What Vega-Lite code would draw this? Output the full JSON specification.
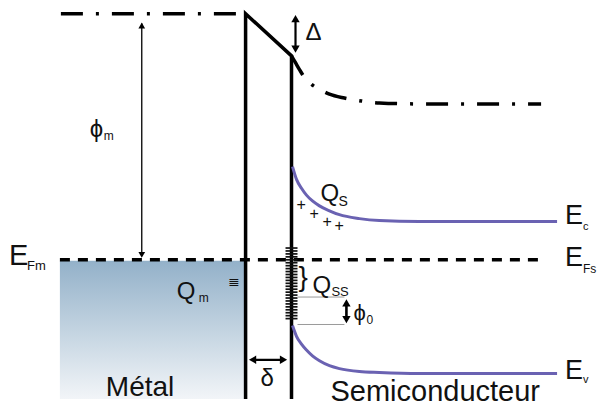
{
  "$schema": "https://vega.github.io/schema/vega-lite/v6.json",
  "width": 597,
  "height": 407,
  "autosize": {"type": "fit", "contains": "padding"},
  "padding": 0,
  "background": "white",
  "config": {"view": {"stroke": null}},
  "encoding": {
    "x": {"field": "x", "type": "quantitative", "scale": {"domain": [0, 597], "nice": false, "zero": false}, "axis": null},
    "y": {"field": "y", "type": "quantitative", "scale": {"domain": [0, 407], "nice": false, "zero": false, "reverse": true}, "axis": null}
  },
  "layer": [
    {
      "data": {"values": [{"x": 60, "y": 266, "x2": 245, "y2": 407}]},
      "mark": {"type": "rect", "fill": {"gradient": "linear", "x1": 0, "y1": 0, "x2": 0, "y2": 1, "stops": [{"offset": 0, "color": "#93b1c9"}, {"offset": 1, "color": "#f2f5f8"}]}},
      "encoding": {"x2": {"field": "x2"}, "y2": {"field": "y2"}}
    },
    {
      "data": {"values": [
        {"s": "top", "o": 1, "x": 61, "y": 14}, {"s": "top", "o": 2, "x": 246, "y": 14},
        {"s": "cb", "o": 1, "x": 292, "y": 57}, {"s": "cb", "o": 2, "x": 296, "y": 64}, {"s": "cb", "o": 3, "x": 300, "y": 71},
        {"s": "cb", "o": 4, "x": 305, "y": 79}, {"s": "cb", "o": 5, "x": 312, "y": 86}, {"s": "cb", "o": 6, "x": 320, "y": 91},
        {"s": "cb", "o": 7, "x": 330, "y": 96}, {"s": "cb", "o": 8, "x": 345, "y": 100}, {"s": "cb", "o": 9, "x": 362, "y": 103},
        {"s": "cb", "o": 10, "x": 380, "y": 105}, {"s": "cb", "o": 11, "x": 420, "y": 106}, {"s": "cb", "o": 12, "x": 542, "y": 106}
      ]},
      "mark": {"type": "line", "color": "black", "strokeWidth": 3.5, "strokeDash": [22, 13, 3, 13], "interpolate": "monotone"},
      "encoding": {"detail": {"field": "s"}, "order": {"field": "o"}}
    },
    {
      "data": {"values": [{"x": 60, "y": 265}, {"x": 545, "y": 265}]},
      "mark": {"type": "line", "color": "black", "strokeWidth": 3.5, "strokeDash": [10, 8]},
      "encoding": {}
    },
    {
      "data": {"values": [
        {"o": 1, "x": 246, "y": 407}, {"o": 2, "x": 246, "y": 14}, {"o": 3, "x": 292, "y": 57}, {"o": 4, "x": 292, "y": 407}
      ]},
      "mark": {"type": "line", "color": "black", "strokeWidth": 3.5, "strokeJoin": "miter"},
      "encoding": {"order": {"field": "o"}}
    },
    {
      "data": {"values": [
        {"x": 286, "y": 253}, {"x": 286, "y": 256}, {"x": 286, "y": 259}, {"x": 286, "y": 262}, {"x": 286, "y": 265},
        {"x": 286, "y": 268}, {"x": 286, "y": 271}, {"x": 286, "y": 274}, {"x": 286, "y": 277}, {"x": 286, "y": 280},
        {"x": 286, "y": 283}, {"x": 286, "y": 286}, {"x": 286, "y": 289}, {"x": 286, "y": 292}, {"x": 286, "y": 295},
        {"x": 286, "y": 298}, {"x": 286, "y": 301}, {"x": 286, "y": 304}, {"x": 286, "y": 307}, {"x": 286, "y": 310},
        {"x": 286, "y": 313}, {"x": 286, "y": 316}, {"x": 286, "y": 319}, {"x": 286, "y": 322}, {"x": 286, "y": 325}
      ]},
      "mark": {"type": "rule", "color": "#111", "strokeWidth": 1.7},
      "encoding": {"x2": {"datum": 298}}
    },
    {
      "data": {"values": [
        {"s": "c", "o": 1, "x": 293, "y": 170}, {"s": "c", "o": 2, "x": 297, "y": 183}, {"s": "c", "o": 3, "x": 302, "y": 192},
        {"s": "c", "o": 4, "x": 307, "y": 199}, {"s": "c", "o": 5, "x": 313, "y": 205}, {"s": "c", "o": 6, "x": 320, "y": 210},
        {"s": "c", "o": 7, "x": 330, "y": 215}, {"s": "c", "o": 8, "x": 340, "y": 219}, {"s": "c", "o": 9, "x": 360, "y": 223},
        {"s": "c", "o": 10, "x": 380, "y": 225}, {"s": "c", "o": 11, "x": 420, "y": 226}, {"s": "c", "o": 12, "x": 558, "y": 226},
        {"s": "v", "o": 1, "x": 293, "y": 332}, {"s": "v", "o": 2, "x": 297, "y": 343}, {"s": "v", "o": 3, "x": 302, "y": 351},
        {"s": "v", "o": 4, "x": 307, "y": 357}, {"s": "v", "o": 5, "x": 313, "y": 363}, {"s": "v", "o": 6, "x": 320, "y": 368},
        {"s": "v", "o": 7, "x": 330, "y": 373}, {"s": "v", "o": 8, "x": 340, "y": 376}, {"s": "v", "o": 9, "x": 360, "y": 379},
        {"s": "v", "o": 10, "x": 380, "y": 380}, {"s": "v", "o": 11, "x": 420, "y": 381}, {"s": "v", "o": 12, "x": 558, "y": 381}
      ]},
      "mark": {"type": "line", "color": "#6a62b2", "strokeWidth": 3, "interpolate": "monotone"},
      "encoding": {"detail": {"field": "s"}, "order": {"field": "o"}}
    },
    {
      "data": {"values": [{"x": 298, "y": 303, "x2": 345}, {"x": 298, "y": 331, "x2": 345}]},
      "mark": {"type": "rule", "color": "#9a9a9a", "strokeWidth": 1},
      "encoding": {"x2": {"field": "x2"}}
    },
    {
      "data": {"values": [
        {"x": 142, "y": 24, "x2": 142, "y2": 260, "w": 1.3},
        {"x": 296, "y": 19, "x2": 296, "y2": 50, "w": 2.2},
        {"x": 347, "y": 310, "x2": 347, "y2": 325, "w": 2.6},
        {"x": 252, "y": 367, "x2": 284, "y2": 367, "w": 2.2}
      ]},
      "mark": {"type": "rule", "color": "black"},
      "encoding": {"x2": {"field": "x2"}, "y2": {"field": "y2"}, "strokeWidth": {"field": "w", "type": "quantitative", "scale": null}}
    },
    {
      "data": {"values": [
        {"x": 142, "y": 26, "sh": "triangle-up", "sz": 45},
        {"x": 142, "y": 260, "sh": "triangle-down", "sz": 45},
        {"x": 296, "y": 19, "sh": "triangle-up", "sz": 70},
        {"x": 296, "y": 50, "sh": "triangle-down", "sz": 70},
        {"x": 347, "y": 309, "sh": "triangle-up", "sz": 70},
        {"x": 347, "y": 326, "sh": "triangle-down", "sz": 70},
        {"x": 253, "y": 367, "sh": "triangle-left", "sz": 70},
        {"x": 284, "y": 367, "sh": "triangle-right", "sz": 70}
      ]},
      "mark": {"type": "point", "filled": true, "color": "black", "opacity": 1},
      "encoding": {"shape": {"field": "sh", "type": "nominal", "scale": null}, "size": {"field": "sz", "type": "quantitative", "scale": null}}
    },
    {
      "data": {"values": [
        {"t": "E", "x": 9, "y": 270, "fs": 29},
        {"t": "Fm", "x": 27, "y": 275, "fs": 13},
        {"t": "E", "x": 566, "y": 229, "fs": 27},
        {"t": "c", "x": 584, "y": 235, "fs": 11},
        {"t": "E", "x": 566, "y": 271, "fs": 27},
        {"t": "Fs", "x": 584, "y": 278, "fs": 12},
        {"t": "E", "x": 566, "y": 387, "fs": 27},
        {"t": "v", "x": 584, "y": 391, "fs": 11},
        {"t": "Q", "x": 177, "y": 305, "fs": 24},
        {"t": "m", "x": 199, "y": 308, "fs": 12},
        {"t": "≣", "x": 228, "y": 292, "fs": 14},
        {"t": "Q", "x": 321, "y": 205, "fs": 24},
        {"t": "S", "x": 339, "y": 210, "fs": 14},
        {"t": "+", "x": 297, "y": 214, "fs": 16},
        {"t": "+", "x": 310, "y": 223, "fs": 16},
        {"t": "+", "x": 323, "y": 232, "fs": 16},
        {"t": "+", "x": 335, "y": 236, "fs": 16},
        {"t": "}", "x": 299, "y": 292, "fs": 28},
        {"t": "Q", "x": 313, "y": 299, "fs": 24},
        {"t": "SS", "x": 332, "y": 302, "fs": 13},
        {"t": "ϕ", "x": 354, "y": 326, "fs": 22},
        {"t": "0", "x": 367, "y": 330, "fs": 12},
        {"t": "ϕ", "x": 90, "y": 140, "fs": 24},
        {"t": "m", "x": 104, "y": 143, "fs": 12},
        {"t": "Δ", "x": 306, "y": 41, "fs": 24},
        {"t": "δ", "x": 261, "y": 394, "fs": 24},
        {"t": "Métal", "x": 106, "y": 404, "fs": 28},
        {"t": "Semiconducteur", "x": 331, "y": 409, "fs": 29}
      ]},
      "mark": {"type": "text", "align": "left", "baseline": "alphabetic", "font": "Liberation Sans", "color": "#111"},
      "encoding": {"text": {"field": "t"}, "size": {"field": "fs", "type": "quantitative", "scale": null}}
    }
  ]
}
